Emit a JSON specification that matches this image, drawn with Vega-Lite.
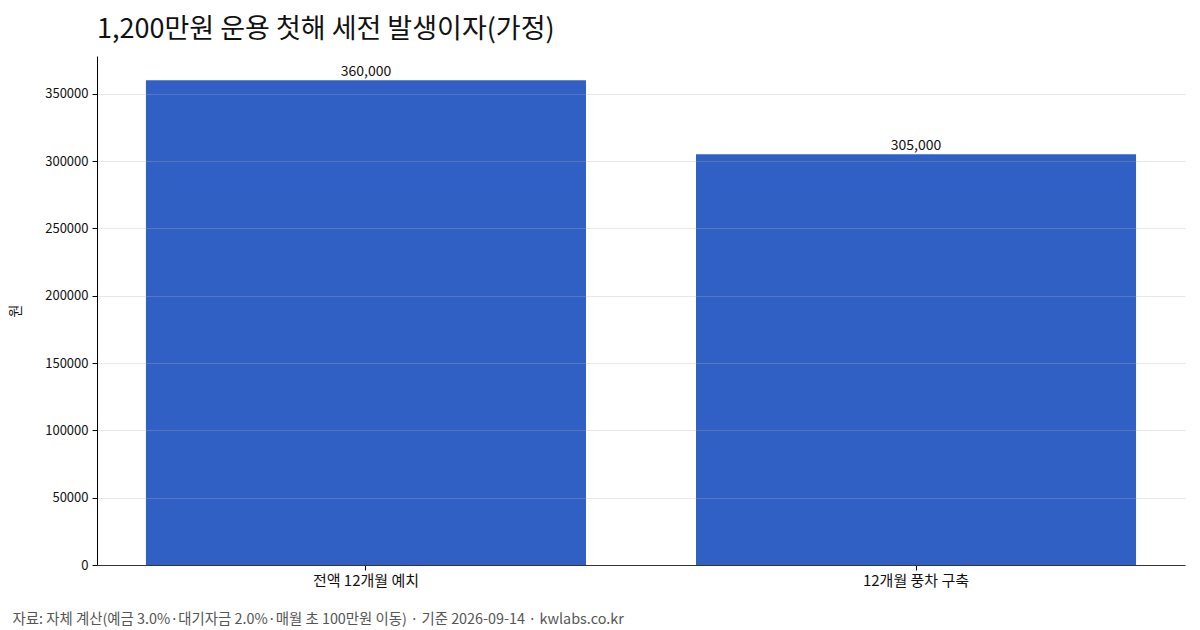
{
  "$schema": "https://vega.github.io/schema/vega-lite/v6.json",
  "autosize": {"type": "none"},
  "padding": {"left": 97, "top": 56, "right": 15, "bottom": 65},
  "width": 1088,
  "height": 509,
  "background": "white",
  "config": {
    "font": "Noto Sans CJK KR",
    "view": {"stroke": null}
  },
  "title": {
    "text": "1,200만원 운용 첫해 세전 발생이자(가정)",
    "anchor": "start",
    "frame": "group",
    "fontSize": 27,
    "fontWeight": "normal",
    "color": "#111111",
    "offset": 12
  },
  "data": {
    "values": [
      {"scenario": "전액 12개월 예치", "interest": 360000, "label": "360,000"},
      {"scenario": "12개월 풍차 구축", "interest": 305000, "label": "305,000"}
    ]
  },
  "encoding": {
    "x": {
      "field": "scenario",
      "type": "nominal",
      "sort": null,
      "scale": {"paddingInner": 0.2, "paddingOuter": 0.089},
      "axis": {
        "title": "자료: 자체 계산(예금 3.0%·대기자금 2.0%·매월 초 100만원 이동) · 기준 2026-09-14 · kwlabs.co.kr",
        "titleX": -85,
        "titleY": 54,
        "titleAlign": "left",
        "titleAnchor": "start",
        "titleBaseline": "middle",
        "titleFontSize": 14.4,
        "titleFontWeight": "normal",
        "titleColor": "#555555",
        "labelAngle": 0,
        "labelFontSize": 15,
        "labelColor": "#111111",
        "labelPadding": 3,
        "domainColor": "#000000",
        "tickColor": "#000000",
        "tickSize": 5
      }
    },
    "y": {
      "field": "interest",
      "type": "quantitative",
      "scale": {"domain": [0, 378000], "nice": false},
      "axis": {
        "title": "원",
        "titleFontSize": 14,
        "titleFontWeight": "normal",
        "titleColor": "#111111",
        "titleX": -75,
        "values": [0, 50000, 100000, 150000, 200000, 250000, 300000, 350000],
        "format": "d",
        "labelFontSize": 13,
        "labelColor": "#111111",
        "labelPadding": 4,
        "domainColor": "#000000",
        "tickColor": "#000000",
        "tickSize": 5,
        "grid": true,
        "gridColor": "#b0b0b0",
        "gridOpacity": 0.3,
        "zindex": 1
      }
    }
  },
  "layer": [
    {
      "mark": {"type": "bar", "color": "#3160C5"}
    },
    {
      "mark": {"type": "text", "baseline": "bottom", "dy": -1, "fontSize": 14, "color": "#111111"},
      "encoding": {"text": {"field": "label"}}
    }
  ]
}
